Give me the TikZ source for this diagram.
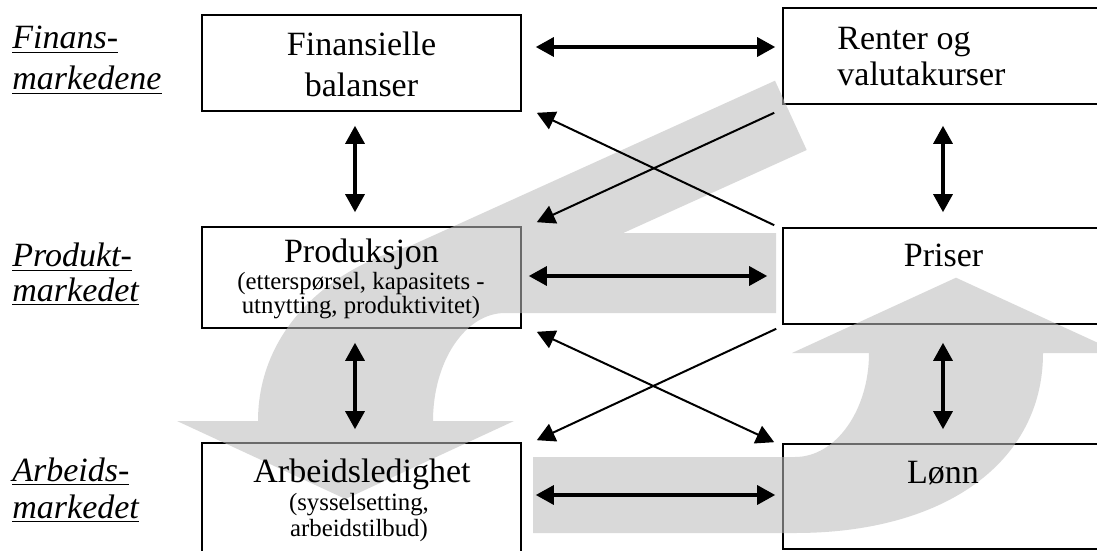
\documentclass[tikz,border=0pt]{standalone}
\usepackage{fontspec}
\setmainfont{Liberation Serif}
\usetikzlibrary{arrows.meta,calc}

\tikzset{
	box/.style={draw, line width=0.8pt, inner sep=0pt, minimum width=159.5pt},
	big/.style={font=\fontsize{17}{20.8}\selectfont, align=center, anchor=base, inner sep=0pt},
	small/.style={font=\fontsize{12.4}{11.7}\selectfont, align=center, anchor=base, inner sep=0pt},
	market/.style={align=left, anchor=base west, inner sep=0pt},
	flow/.style={fill=black!26, fill opacity=0.565},
	bigtip/.tip={Triangle[length=9pt, width=9.5pt]},
	dbl/.style={line width=1.6pt, bigtip-bigtip},
	one/.style={line width=1pt, -bigtip},
	twin/.style={line width=1pt, bigtip-bigtip},
}

\begin{document}
\begin{tikzpicture}[x=0.5pt, y=-0.5pt]
	\path[use as bounding box, fill=white] (0,0) rectangle (1097,551);
	\clip (0,0) rectangle (1097,551);
	% Boxes
	\node[box, minimum height=48pt] (fin) at (361.5,63) {};
	\node[box, minimum height=48pt, minimum width=160pt] (ren) at (943,56) {};
	\node[box, minimum height=50.5pt] (prod) at (361.5,277.5) {};
	\node[box, minimum height=48pt, minimum width=160pt] (pris) at (943,276) {};
	\node[box, minimum height=54.5pt] (arb) at (361.5,497.5) {};
	\node[box, minimum height=52.5pt, minimum width=160pt] (lonn) at (943,496.5) {};
	% Grey flow arrows
	\fill[flow]
		% diagonal band
		(775,80.7) -- (806.7,150) -- (401.4,333.4) -- (370,264.2) -- cycle
		% band, bend and head down
		(776,233) -- (776,313) -- (505,313)
			.. controls (465.2,313) and (433,361.4) .. (433,421)
			-- (514,421) -- (345.5,499) -- (177,421) -- (258,421)
			.. controls (258,312) and (362,233) .. (505,233) -- cycle
		% band, bend and head up
		(533,457) -- (795,457)
			.. controls (836,457) and (869,410) .. (869,353)
			-- (792,353) -- (956,277.7) -- (1120,353) -- (1043,353)
			.. controls (1043,462) and (945,533) .. (795,533) -- (533,533) -- cycle;
	% Texts (base = last line)
	\node[big] (finT) at (361.5,96.7) {Finansielle\\balanser};
	\node[big, align=left, anchor=base west, font=\fontsize{17}{18}\selectfont] (renT) at (837,86) {Renter og\\valutakurser};
	\node[big] (prodT) at (361.5,262) {Produksjon};
	\node[small] (prodS) at (361,313.3) {(etterspørsel, kapasitets -\\utnytting, produktivitet)};
	\node[big] (prisT) at (943.5,266.7) {Priser};
	\node[big] (arbT) at (362,482.3) {Arbeidsledighet};
	\node[small, font=\fontsize{12.4}{13}\selectfont] (arbS) at (359,536.7) {(sysselsetting,\\arbeidstilbud)};
	\node[big] (lonnT) at (943,483.3) {Lønn};
	% Markets
	\node[market, font=\fontsize{17}{20.5}\selectfont\itshape] (finM) at (12,90) {\underline{Finans-}\\\underline{markedene}};
	\node[market, font=\fontsize{17}{17.5}\selectfont\itshape] (prodM) at (12,301.7) {\underline{Produkt-}\\\underline{markedet}};
	\node[market, font=\fontsize{17}{18.5}\selectfont\itshape] (arbM) at (12,518) {\underline{Arbeids-}\\\underline{markedet}};
	% Vertical links
	\draw[dbl, shorten <=7pt, shorten >=7pt] ([xshift=-3.25pt]fin.south) -- ([xshift=-3.25pt]prod.north);
	\draw[dbl, shorten <=7pt, shorten >=6.5pt] ([xshift=-3.25pt]prod.south) -- ([xshift=-3.25pt]arb.north);
	\draw[dbl, shorten <=10.5pt, shorten >=7.5pt] (ren.south) -- (pris.north);
	\draw[dbl, shorten <=9pt, shorten >=7pt] (pris.south) -- (lonn.north);
	% Horizontal links
	\draw[dbl, shorten <=7pt, shorten >=3.5pt] (fin.east |- 0,47) -- (ren.west |- 0,47);
	\draw[dbl, shorten <=3.5pt, shorten >=7.5pt] (prod.east |- 0,276) -- (pris.west |- 0,276);
	\draw[dbl, shorten <=7pt, shorten >=3.5pt] (arb.east |- 0,495) -- (lonn.west |- 0,495);
	% Cross links
	\draw[one] ($(ren.south west)+(-8,8)$) -- ($(prod.north east)+(15,-4)$);
	\draw[one] ($(pris.north west)+(-8,-2)$) -- ($(fin.south east)+(15,1)$);
	\draw[twin] ($(prod.south east)+(15,3)$) -- ($(lonn.north west)+(-8,-1)$);
	\draw[one] ($(pris.south west)+(-6,4)$) -- ($(arb.north east)+(15,-2)$);
\end{tikzpicture}
\end{document}
